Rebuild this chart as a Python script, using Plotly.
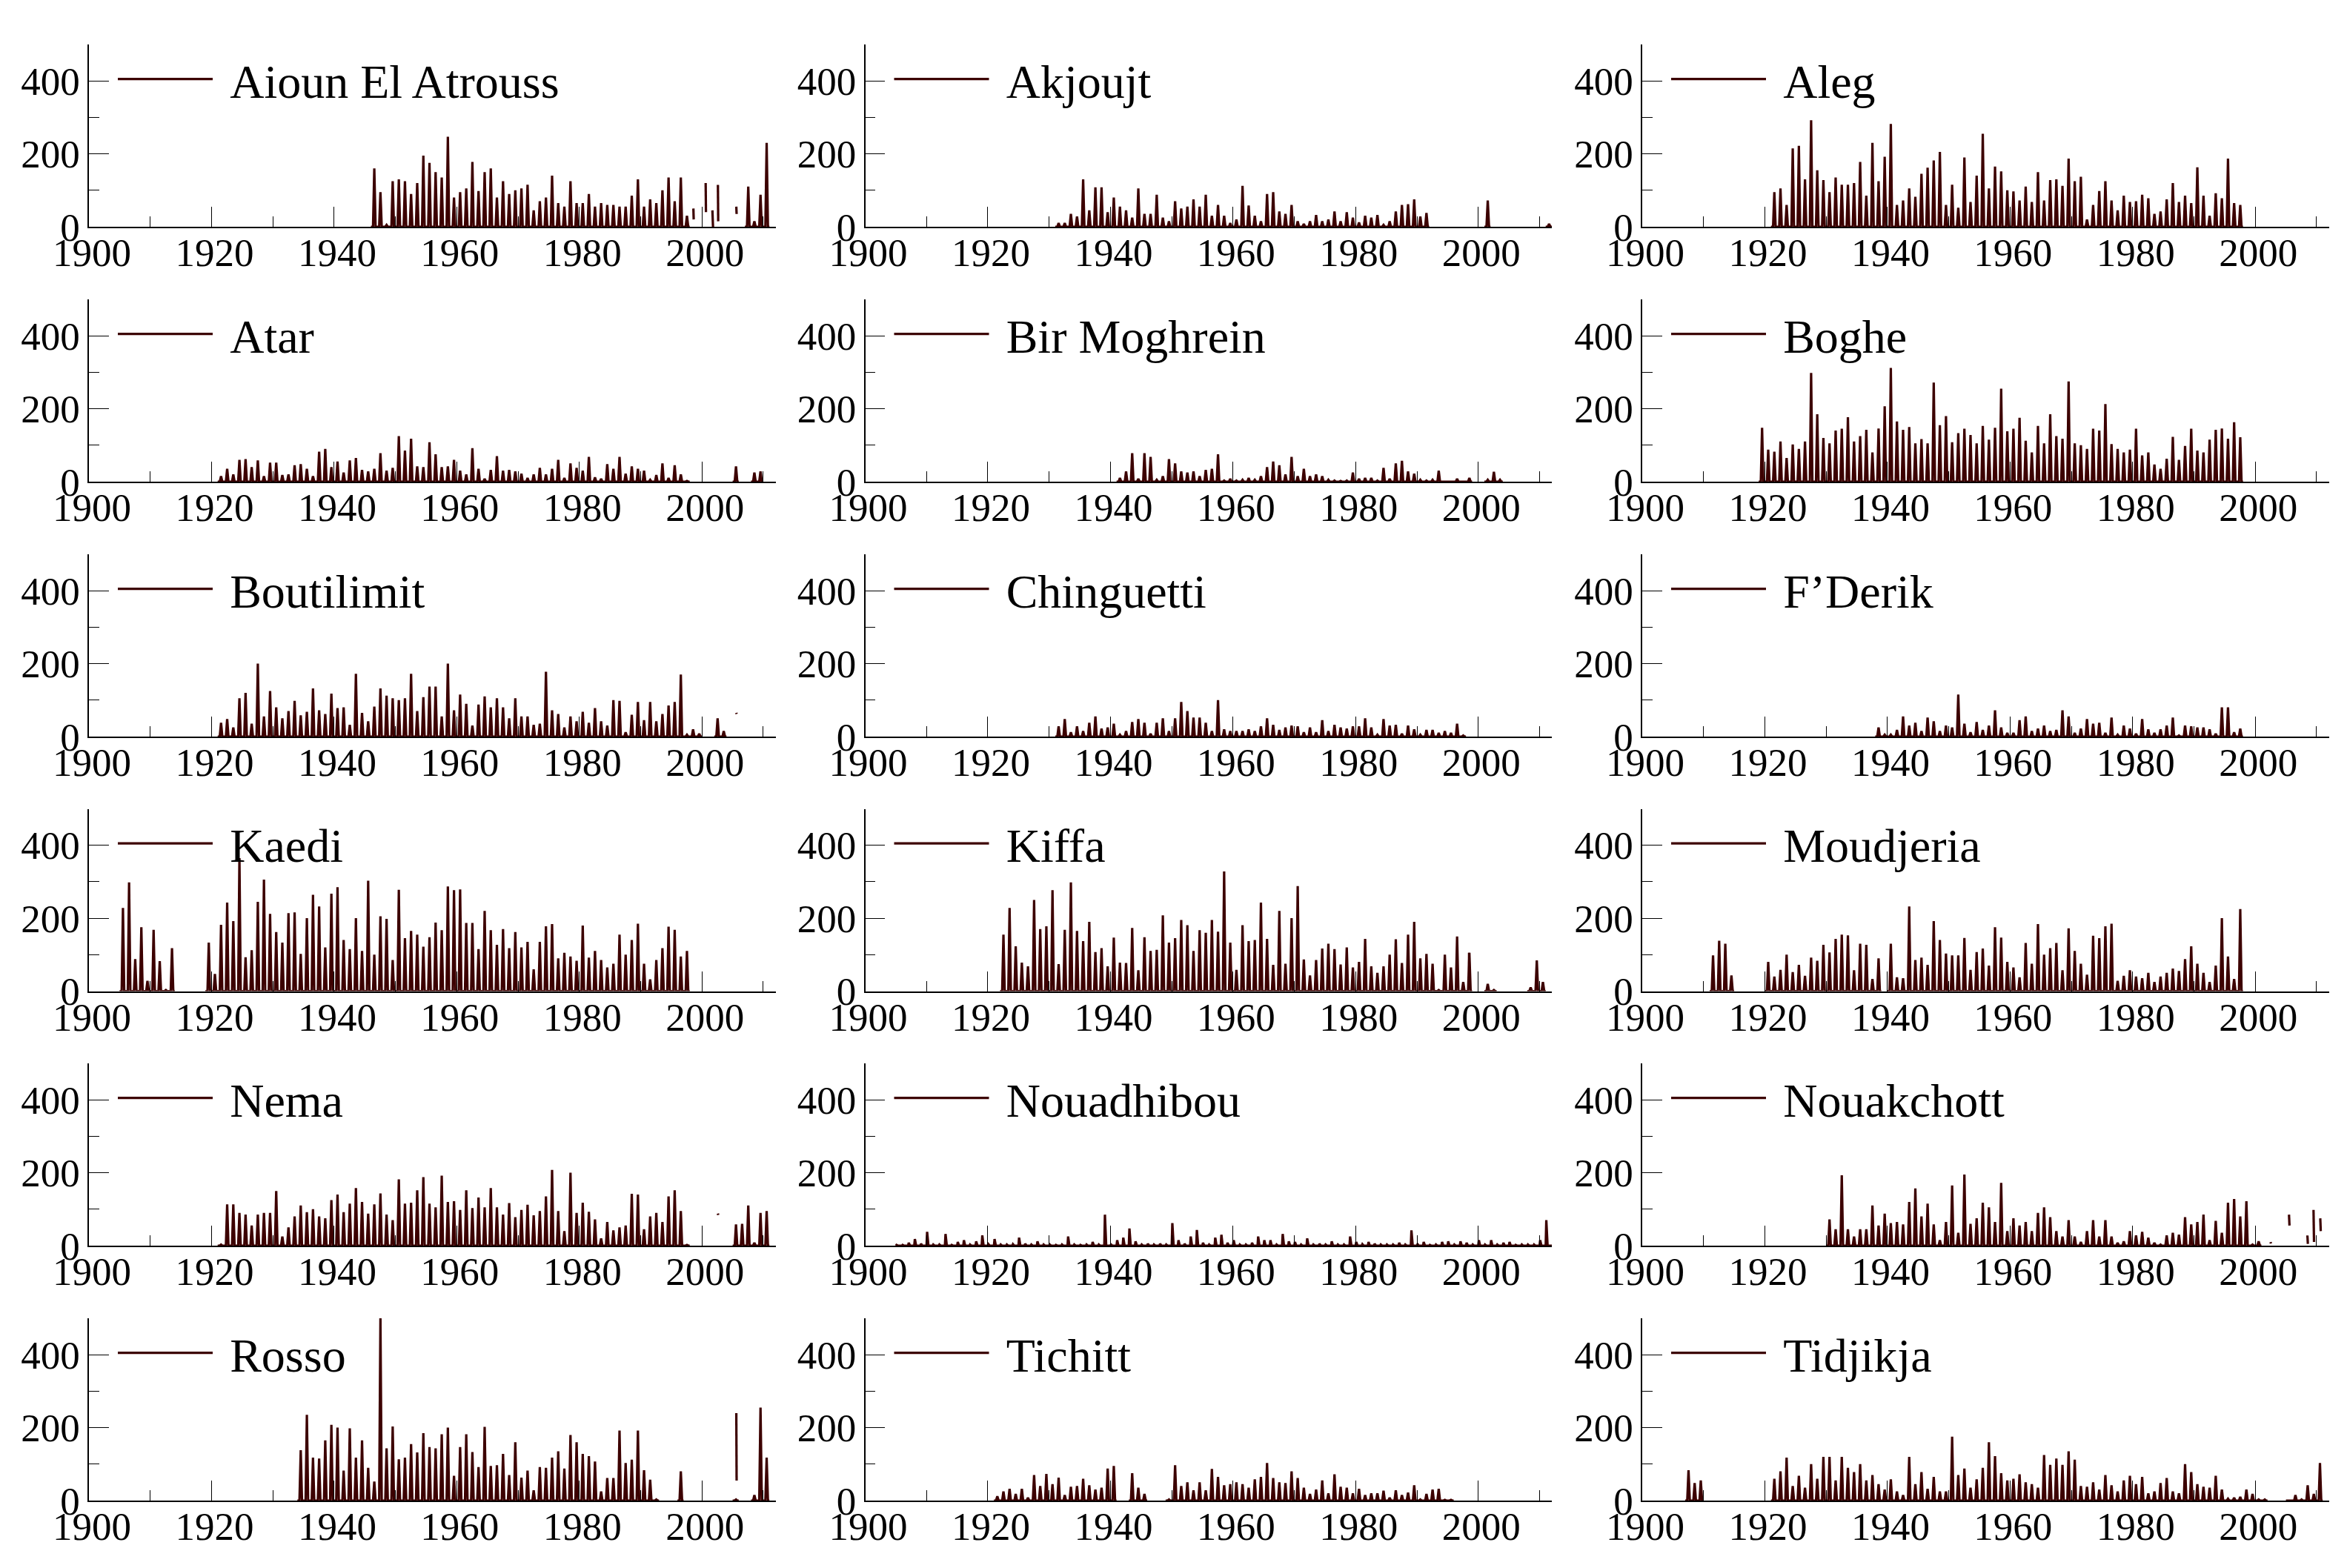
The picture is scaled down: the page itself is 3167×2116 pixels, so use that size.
import plotly.graph_objects as go

NAMES = ["Aioun El Atrouss", "Akjoujt", "Aleg", "Atar", "Bir Moghrein", "Boghe", "Boutilimit", "Chinguetti", "F\u2019Derik",
         "Kaedi", "Kiffa", "Moudjeria", "Nema", "Nouadhibou", "Nouakchott", "Rosso", "Tichitt", "Tidjikja"]

N = None
AIOUN_START = 1946
AIOUN = [160,95,5,125,130,125,90,120,195,175,150,135,247,80,95,105,178,98,150,160,80,125,90,100,105,115,45,70,80,140,65,55,125,65,65,90,55,65,60,60,55,55,85,130,55,75,65,100,135,70,135,30,N,N,N,N,N,N,N,N,N,110,15,88,230]
AKJOUJT_START = 1931
AKJOUJT = [10,10,35,28,130,45,108,108,40,80,55,45,25,105,35,35,88,25,15,70,50,55,75,55,88,30,60,30,10,20,112,58,30,15,90,95,42,35,60,15,8,15,32,15,20,42,15,40,25,12,30,25,32,5,15,42,60,62,75,28,38,N,N,N,N,N,N,N,N,N,72,N,N,N,N,N,N,N,N,N,8]
ALEG_START = 1921
ALEG = [95,105,60,215,222,130,292,155,128,95,135,115,115,120,178,85,230,125,192,282,60,72,105,82,145,162,182,205,60,115,52,190,68,140,255,105,165,152,100,97,72,110,68,150,72,128,130,112,187,125,137,20,60,98,125,72,45,85,68,70,88,78,35,42,75,120,68,85,65,163,85,30,92,78,187,65,60]
ATAR_START = 1921
ATAR = [15,35,20,60,62,40,58,15,52,52,18,20,45,48,35,15,82,90,40,55,25,58,65,32,28,35,78,30,38,125,85,118,42,40,108,75,40,42,60,30,20,92,35,8,32,70,30,32,28,22,10,20,38,20,35,60,10,50,38,30,68,12,8,48,35,68,22,42,35,30,5,18,50,10,45,20,2,N,N,N,N,N,N,N,42,N,N,25,28]
BIR_START = 1941
BIR = [10,28,78,8,78,68,5,15,62,50,28,25,28,15,32,35,75,3,8,3,5,10,5,15,40,55,45,20,68,15,35,15,20,15,5,3,2,3,25,8,10,10,3,38,8,50,57,28,22,5,3,5,30,1,1,8,1,10,N,N,5,27,5]
BOGHE_START = 1919
BOGHE = [148,88,82,110,65,102,90,110,298,185,120,105,140,145,177,110,125,142,80,146,207,312,165,142,150,105,117,105,272,155,180,108,133,145,128,105,153,115,148,255,138,145,175,112,80,153,105,185,125,118,275,105,100,90,145,140,213,103,90,80,88,145,72,80,47,35,63,123,60,98,145,85,80,115,142,146,118,163,122]
BOUTILIMIT_START = 1921
BOUTILIMIT = [38,48,25,105,120,35,200,55,125,80,50,70,98,58,68,132,72,62,118,78,80,32,172,65,42,82,132,112,105,100,105,172,70,108,137,137,55,200,72,115,90,30,88,110,80,105,80,50,105,55,55,32,35,178,72,62,25,55,42,68,38,78,42,30,100,98,12,60,95,45,95,42,62,85,95,170,5,20,8,N,N,50,15]
CHINGUETTI_START = 1931
CHINGUETTI = [28,48,12,28,15,38,55,22,25,35,5,15,40,48,38,8,38,50,15,50,95,70,52,52,38,15,100,20,15,15,15,20,15,28,50,32,18,25,30,28,12,25,12,45,15,32,25,22,28,28,50,25,5,48,30,32,8,30,20,5,18,18,10,15,10,35,3]
FDERIK_START = 1938
FDERIK = [25,5,5,18,55,30,38,15,52,42,15,30,25,115,35,12,40,18,30,72,25,10,10,45,55,15,22,30,15,18,72,55,10,22,48,35,38,10,52,5,30,22,8,48,20,10,20,30,52,3,30,28,25,25,20,8,80,80,12,22]
KAEDI_START = 1905
KAEDI = [228,298,88,175,28,168,82,3,118,N,N,N,N,N,133,47,182,243,192,365,93,112,245,306,212,162,133,214,216,102,200,264,232,120,267,285,140,115,200,110,303,100,205,198,85,278,145,165,155,122,148,188,167,287,277,279,187,187,115,220,167,127,170,118,162,120,135,60,135,178,184,90,105,95,83,180,92,110,85,65,75,155,100,140,185,75,32,85,118,177,168,95,110]
KIFFA_START = 1922
KIFFA = [155,228,123,78,68,250,170,178,277,74,168,298,165,137,190,107,118,68,147,78,77,173,57,148,110,113,208,133,145,195,181,110,167,160,195,163,328,133,58,181,137,140,243,143,72,220,75,200,288,87,43,85,117,130,115,73,120,65,80,143,68,50,68,100,142,77,155,190,90,102,75,3,100,65,150,25,105,N,N,20,3,N,N,N,N,N,10,84,25]
MOUDJERIA_START = 1911
MOUDJERIA = [98,138,130,43,N,N,N,N,N,80,40,58,100,52,72,42,92,83,127,106,143,155,153,57,130,127,33,90,N,130,38,35,232,85,92,72,192,140,103,98,98,146,58,107,117,70,175,147,80,65,38,132,75,184,100,118,132,57,172,110,75,45,152,145,178,185,28,42,57,40,35,50,25,40,50,62,55,88,123,75,50,25,70,200,95,33,225]
NEMA_START = 1921
NEMA = [3,113,113,90,85,55,85,90,90,150,25,50,80,110,92,100,80,75,125,140,92,115,158,120,88,113,143,85,70,182,115,118,152,188,115,105,192,120,122,98,152,103,132,105,158,105,85,117,78,98,112,83,95,135,208,95,40,200,90,118,93,72,20,65,42,50,55,142,140,45,80,90,65,135,152,95,2,N,N,N,N,N,N,N,58,60,110,8,90,95]
NOUADHIBOU_START = 1905
NOUADHIBOU = [2,2,8,18,5,38,3,3,32,2,10,15,3,12,28,4,18,3,3,4,22,5,3,12,3,3,2,3,25,3,2,3,10,3,85,3,15,22,47,12,3,5,3,5,3,62,15,5,25,43,8,3,22,30,8,15,3,3,8,25,15,15,3,32,12,10,3,20,3,5,3,12,3,3,25,10,4,10,5,3,3,3,8,3,42,4,10,2,3,10,12,3,12,8,3,15,3,15,3,8,10,2,3,3,3,15,70]
NOUAKCHOTT_START = 1930
NOUAKCHOTT = [72,45,193,45,25,45,45,110,55,88,62,65,58,120,157,80,115,58,15,65,165,35,195,60,75,118,105,65,172,40,75,55,65,40,90,105,78,40,25,70,25,10,40,70,25,70,25,8,12,40,28,38,22,8,3,28,35,30,78,58,65,85,15,68,35,118,128,80,122,3,12]
ROSSO_START = 1934
ROSSO = [138,235,118,115,165,208,200,82,198,118,165,90,52,500,143,203,113,118,155,132,185,147,143,182,200,68,147,182,133,92,202,95,97,128,70,160,63,82,28,92,90,118,135,88,180,160,128,122,107,25,62,62,192,103,112,192,83,57,3,N,N,N,80,N,N,N,N,N,N,N,N,3,N,N,15,255,118]
TICHITT_A_START = 1921
TICHITT_A = [12,25,32,18,32,8,70,40,73,45,63,15,38,40,60,42,30,35,88,95,N,N,75,35,18,N,N,N,3,97,40,50,28,50,28,87,65,42,45,50,45,35,58,65,103,62,50,48,80,62,35,18,30,55,20,72,38,35,20,32,15,20,20,27,8,28,15,22,42,3,18,30,32,2,2]
TIDJIKJA_START = 1907
TIDJIKJA = [83,48,55,N,N,N,N,N,N,N,N,N,N,N,60,80,118,40,68,35,100,60,120,120,55,120,90,78,100,55,70,45,30,58,25,15,120,45,78,32,65,25,25,175,70,88,35,58,90,160,122,75,55,60,72,50,45,35,125,98,115,98,135,112,40,38,50,30,70,42,25,55,68,45,65,20,25,48,62,25,20,100,78,45,38,35,68,30,5,8,10,30,18,3,3,N,N,N,1,15,3,42,18,103]

SERIES = [(AIOUN_START, AIOUN), (AKJOUJT_START, AKJOUJT), (ALEG_START, ALEG), (ATAR_START, ATAR), (BIR_START, BIR),
          (BOGHE_START, BOGHE), (BOUTILIMIT_START, BOUTILIMIT), (CHINGUETTI_START, CHINGUETTI), (FDERIK_START, FDERIK),
          (KAEDI_START, KAEDI), (KIFFA_START, KIFFA), (MOUDJERIA_START, MOUDJERIA), (NEMA_START, NEMA),
          (NOUADHIBOU_START, NOUADHIBOU), (NOUAKCHOTT_START, NOUAKCHOTT), (ROSSO_START, ROSSO),
          (TICHITT_A_START, TICHITT_A), (TIDJIKJA_START, TIDJIKJA)]
PEAK_TIME = [0.55]*13 + [0.1] + [0.55]*4

PIECES = {
    0: [[(1998.6,50),(1998.65,20)], [(2000.6,120),(2000.65,40)], [(2001.7,45),(2001.8,0)], [(2002.6,115),(2002.65,15)], [(2005.6,55),(2005.65,35)]],
    6: [[(2005.6,65),(2005.65,62)]],
    10: [[(1998.5,105),(1998.55,10)]],
    12: [[(2002.6,88),(2002.65,84)]],
    14: [[(2005.5,85),(2005.58,55)], [(2008.5,28),(2008.58,5)], [(2009.5,98),(2009.58,10)], [(2010.6,75),(2010.68,40)], [(2002.5,10),(2002.55,6)]],
    15: [[(2005.6,240),(2005.65,55)]],
}

YEAR_TICK_VALS = [1900, 1920, 1940, 1960, 1980, 2000]
Y_TICK_VALS = [0, 200, 400]

COL_LEFT = [120, 1167.5, 2216]
COL_W = 926.5
ROW_BOTTOM = [306, 650, 994, 1337.5, 1681, 2025]
ROW_H = 246
W, H = 3167, 2116
COLOR = "#3c0000"
FONT = "Liberation Serif"
PAD = "\u2009\u200a"
SPREAD = 2.5 / 12

fig = go.Figure()
layout = dict(width=W, height=H, margin=dict(l=0, r=0, t=0, b=0, autoexpand=False), paper_bgcolor="white", plot_bgcolor="white",
              font=dict(family=FONT, color="black"), showlegend=True)

for i, (name, (start, vals)) in enumerate(zip(NAMES, SERIES)):
    r, c = i // 3, i % 3
    xs, ys = [], []
    t = PEAK_TIME[i]
    for k, v in enumerate(vals):
        yr = start + k
        if v is None:
            xs.append(None); ys.append(None)
        else:
            xs += [yr, max(yr, yr + t - SPREAD), yr + t, yr + t + SPREAD, yr + 1]
            ys += [0, 0, v, 0, 0]
    for piece in PIECES.get(i, []):
        xs.append(None); ys.append(None)
        xs += [p[0] for p in piece]
        ys += [p[1] for p in piece]
    s = "" if i == 0 else str(i + 1)
    leg = "legend" + s
    fig.add_trace(go.Scatter(x=xs, y=ys, mode="lines", name=PAD + name, xaxis="x" + s, yaxis="y" + s, legend=leg, showlegend=True,
                             line=dict(color=COLOR, width=3.2), connectgaps=False, hoverinfo="skip", cliponaxis=False))
    left, bottom = COL_LEFT[c], ROW_BOTTOM[r]
    layout["xaxis" + s] = dict(domain=[left / W, (left + COL_W) / W], range=[1900, 2012], anchor="y" + s,
                               tickmode="array", tickvals=YEAR_TICK_VALS, ticks="inside", ticklen=27, tickwidth=1.2,
                               tickcolor="black", showgrid=False, zeroline=False, showline=True, linecolor="black",
                               linewidth=1.5, tickfont=dict(size=53, family=FONT, color="black"), ticklabelstandoff=-12,
                               ticklabelshift=4,
                               minor=dict(dtick=10, tick0=1900, ticks="inside", ticklen=14, tickwidth=1.2,
                                          tickcolor="black", showgrid=False))
    layout["yaxis" + s] = dict(domain=[1 - bottom / H, 1 - (bottom - ROW_H) / H], range=[0, 500], anchor="x" + s,
                               tickmode="array", tickvals=Y_TICK_VALS, ticks="inside", ticklen=27, tickwidth=1.2,
                               tickcolor="black", showgrid=False, zeroline=False, showline=True, linecolor="black",
                               linewidth=1.5, tickfont=dict(size=53, family=FONT, color="black"),
                               minor=dict(dtick=100, tick0=0, ticks="inside", ticklen=14, tickwidth=1.2,
                                          tickcolor="black", showgrid=False))
    layout[leg] = dict(x=(left + 34) / W, y=1 - (bottom - 199) / H, xanchor="left", yanchor="middle",
                       bgcolor="rgba(0,0,0,0)", borderwidth=0, itemwidth=128, font=dict(size=64, family=FONT, color="black"),
                       itemclick=False, itemdoubleclick=False)

fig.update_layout(**layout)
fig.write_html("out.html", post_script="document.body.style.margin='0';", config=dict(displayModeBar=False))
